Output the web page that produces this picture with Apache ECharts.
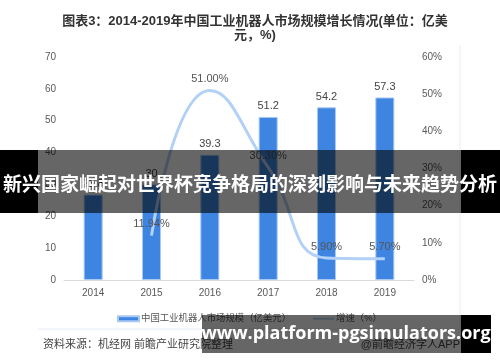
<!DOCTYPE html>
<html><head><meta charset="utf-8">
<script src="https://cdn.jsdelivr.net/npm/echarts@6/dist/echarts.min.js"></script>
<style>html,body{margin:0;padding:0;background:#fff}#c{width:500px;height:362px}</style>
</head><body><div id="c"></div>
<script>
const years = ['2014','2015','2016','2017','2018','2019'];
const marketSize = [26.8, 30, 39.3, 51.2, 54.2, 57.3];
const growthRate = [null, 11.94, 51.00, 30.30, 5.90, 5.70];
const leftTicks = {min: 0, max: 70, interval: 10};
const rightTicks = {min: 0, max: 60, interval: 10};
const barName = '中国工业机器人市场规模（亿美元）';
const lineName = '增速（%）';
const titleText = '图表3：2014-2019年中国工业机器人市场规模增长情况(单位：亿美\n元，%)';
const sourceText = '资料来源：机经网 前瞻产业研究院整理';
const brandText = '@前瞻经济学人APP';
const bannerText = '新兴国家崛起对世界杯竞争格局的深刻影响与未来趋势分析';
const urlText = 'www.platform-pgsimulators.org';

const FF = '"Liberation Sans","Noto Sans CJK SC",sans-serif';
const chart = echarts.init(document.getElementById('c'));
chart.setOption({
  animation: false,
  textStyle: {fontFamily: FF},
  title: {
    text: titleText, left: 250, top: 9, textAlign: 'center',
    textStyle: {fontSize: 13, fontWeight: 'bold', color: '#333', lineHeight: 14, fontFamily: FF}
  },
  grid: {left: 64, right: 86, top: 57, bottom: 82},
  legend: {
    left: 112, top: 309, itemWidth: 21, itemHeight: 5, itemGap: 22,
    textStyle: {fontSize: 9.4, color: '#555', padding: [0,0,0,-3]},
    data: [
      {name: barName, icon: 'rect'},
      {name: lineName, icon: 'path://M0,0H22V2H0Z'}
    ]
  },
  xAxis: {
    type: 'category', data: years,
    axisLine: {lineStyle: {color: '#d9d9d9'}},
    axisTick: {show: false},
    axisLabel: {color: '#595959', fontSize: 10, margin: 8}
  },
  yAxis: [
    {type: 'value', min: leftTicks.min, max: leftTicks.max, interval: leftTicks.interval,
     splitLine: {show: false}, axisLine: {show: false}, axisTick: {show: false},
     axisLabel: {color: '#595959', fontSize: 10}},
    {type: 'value', min: rightTicks.min, max: rightTicks.max, interval: rightTicks.interval,
     splitLine: {show: false}, axisLine: {show: false}, axisTick: {show: false},
     axisLabel: {color: '#595959', fontSize: 10, formatter: '{value}%'}}
  ],
  series: [
    {name: barName, type: 'bar', data: marketSize, barWidth: 19,
     itemStyle: {color: '#3e85e2', borderColor: '#a9c9f2', borderWidth: 1},
     label: {show: true, position: 'top', distance: 5, color: '#444', fontSize: 11}},
    {name: lineName, type: 'line', yAxisIndex: 1, data: growthRate, smooth: 0.5, smoothConstraint: false,
     symbol: 'circle', symbolSize: 0, showSymbol: true,
     lineStyle: {color: '#b3d0f6', width: 3},
     itemStyle: {color: '#b3d0f6'},
     label: {show: true, position: 'top', distance: 6, color: '#555', fontSize: 11,
             formatter: p => p.value.toFixed(2) + '%'}}
  ],
  graphic: [
    {type: 'line', shape: {x1: 460, y1: 45, x2: 460, y2: 329}, style: {stroke: '#e6edf5', lineWidth: 1}, z: 1},
    {type: 'line', shape: {x1: 38, y1: 329, x2: 460, y2: 329}, style: {stroke: '#e6edf5', lineWidth: 1}, z: 1},
    {type: 'text', left: 43, top: 339, style: {text: sourceText, fontSize: 11, fill: '#444', fontFamily: FF}, z: 1},
    {type: 'text', right: 40, top: 339, style: {text: brandText, fontSize: 11, fill: '#444', fontFamily: FF}, z: 1},
    {type: 'rect', shape: {x: 0, y: 150, width: 38, height: 63}, style: {fill: '#000'}, z: 100},
    {type: 'rect', shape: {x: 38, y: 150, width: 423, height: 63}, style: {fill: 'rgba(0,0,0,0.6)'}, z: 100},
    {type: 'rect', shape: {x: 461, y: 150, width: 39, height: 63}, style: {fill: '#000'}, z: 100},
    {type: 'text', x: 250, y: 184, style: {text: bannerText, fill: '#fff', fontSize: 19, fontWeight: 'bold',
      fontFamily: '"Noto Sans CJK SC",sans-serif', textAlign: 'center', textVerticalAlign: 'middle'}, z: 101},
    {type: 'rect', shape: {x: 202, y: 315, width: 259, height: 38}, style: {fill: 'rgba(0,0,0,0.6)'}, z: 100},
    {type: 'rect', shape: {x: 461, y: 315, width: 30, height: 38}, style: {fill: '#000'}, z: 100},
    {type: 'text', x: 346, y: 334, style: {text: urlText, fill: '#fff', fontSize: 18, fontWeight: 'bold',
      fontFamily: '"Open Sans",sans-serif', textAlign: 'center', textVerticalAlign: 'middle'}, z: 101}
  ]
});
</script></body></html>
